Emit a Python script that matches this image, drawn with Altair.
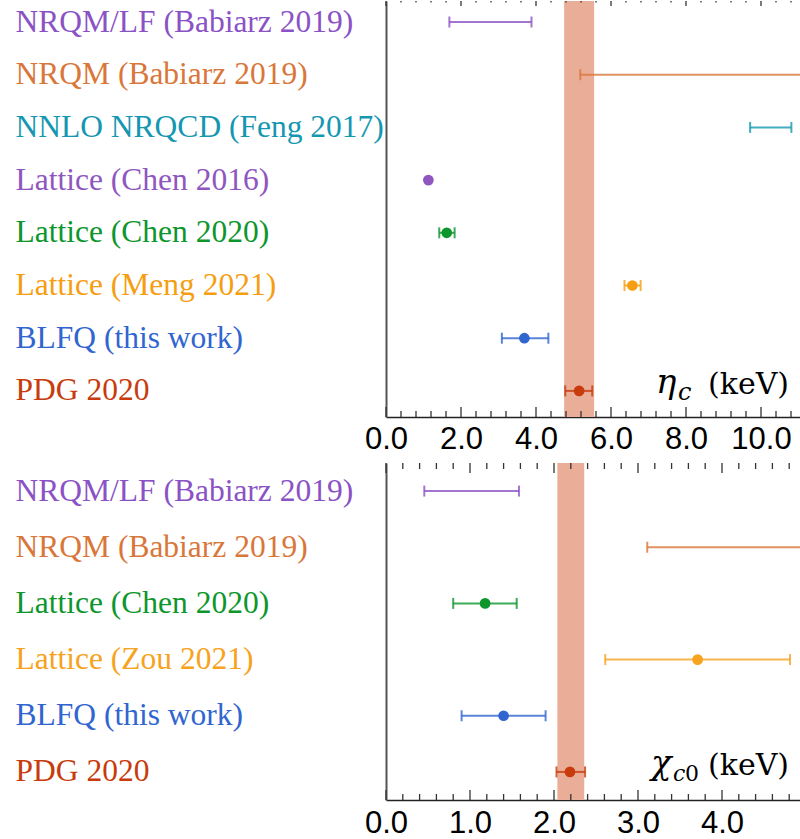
import altair as alt
import pandas as pd

# ---------------- eta_c panel data ----------------
eta_labels = ["NRQM/LF (Babiarz 2019)", "NRQM (Babiarz 2019)", "NNLO NRQCD (Feng 2017)",
              "Lattice (Chen 2016)", "Lattice (Chen 2020)", "Lattice (Meng 2021)",
              "BLFQ (this work)", "PDG 2020"]
eta_colors = ["#8b52c6", "#d9773a", "#1597b2", "#8f56bf", "#0d962c", "#f69e12", "#3165cf", "#c73b0c"]
eta_center = [None, None, None, 1.13, 1.62, 6.57, 3.69, 5.15]
eta_low = [1.69, 5.18, 9.71, None, 1.42, 6.36, 3.09, 4.78]
eta_high = [3.88, 14.0, 10.81, None, 1.83, 6.79, 4.33, 5.50]
eta_band = [4.75, 5.55]
eta_major = [0, 2, 4, 6, 8, 10]
eta_minor = [round(i * 0.4, 1) for i in range(28) if i % 5]
eta_domain = [0, 11.04]

# ---------------- chi_c0 panel data ----------------
chi_labels = ["NRQM/LF (Babiarz 2019)", "NRQM (Babiarz 2019)", "Lattice (Chen 2020)",
              "Lattice (Zou 2021)", "BLFQ (this work)", "PDG 2020"]
chi_colors = ["#8b52c6", "#d9773a", "#0d962c", "#f7a320", "#3165cf", "#c73b0c"]
chi_center = [None, None, 1.18, 3.71, 1.40, 2.19]
chi_low = [0.456, 3.11, 0.80, 2.61, 0.90, 2.03]
chi_high = [1.583, 6.0, 1.556, 4.81, 1.90, 2.37]
chi_band = [2.04, 2.36]
chi_major = [0, 1, 2, 3, 4]
chi_minor = [round(i * 0.2, 1) for i in range(25) if i % 5]
chi_domain = [0, 4.9286]

BAND_COLOR = "#eaae98"
TICK_COLOR = "#333333"


def panel(labels, colors, center, low, high, band, major, minor, domain,
          height, pad, align, top_major, top_minor, label_pad, annots):
    df = pd.DataFrame({"label": labels, "center": center, "low": low, "high": high})
    xs = alt.Scale(domain=domain, nice=False, zero=False)
    ys = alt.Scale(type="point", domain=labels, padding=pad, align=align)
    cs = alt.Scale(domain=labels, range=colors)
    label_color = {
        "condition": [{"test": f"datum.value === '{l}'", "value": c} for l, c in zip(labels, colors)],
        "value": "#000000",
    }
    yaxis = alt.Axis(title=None, ticks=False, tickSize=0, labelAlign="left", labelPadding=371,
                     labelFont="Liberation Serif", labelFontSize=31.5, labelColor=label_color,
                     labelLimit=420, labelBaseline="middle", domainColor="#555555", domainWidth=2,
                     grid=False)
    xaxis = alt.Axis(title=None, values=major, format=".1f", ticks=False, tickSize=0, grid=False,
                     labelFont="Liberation Sans", labelFontSize=31, labelColor="#000000",
                     labelPadding=label_pad, labelBaseline="middle", labelFlush=False,
                     labelOverlap=False, domainColor="#222222", domainWidth=1.6)

    def X(field):
        return alt.X(field, scale=xs, axis=xaxis, title=None)

    ycode = alt.Y("label:N", scale=ys, axis=yaxis, title=None)
    ccode = alt.Color("label:N", scale=cs, legend=None)

    band_layer = alt.Chart(pd.DataFrame({"lo": [band[0]], "hi": [band[1]]})).mark_rect(
        color=BAND_COLOR).encode(x=X("lo:Q"), x2="hi:Q")

    base = alt.Chart(df)
    bars = base.transform_filter("isValid(datum.low)").mark_rule(
        strokeWidth=2, opacity=0.8, clip=True).encode(
        x=X("low:Q"), x2="high:Q", y=ycode, color=ccode)
    cap_lo = base.transform_filter("isValid(datum.low)").mark_tick(
        thickness=2, size=11, opacity=0.8, clip=True).encode(
        x=X("low:Q"), y=ycode, color=ccode)
    cap_hi = base.transform_filter("isValid(datum.high)").mark_tick(
        thickness=2, size=11, opacity=0.8, clip=True).encode(
        x=X("high:Q"), y=ycode, color=ccode)
    pts = base.transform_filter("isValid(datum.center)").mark_circle(
        size=115, opacity=1).encode(
        x=X("center:Q"), y=ycode, color=ccode)

    maj_df = pd.DataFrame({"t": major})
    min_df = pd.DataFrame({"t": minor})
    tick_layers = [
        alt.Chart(maj_df).mark_rule(color=TICK_COLOR, strokeWidth=1.3).encode(
            x=X("t:Q"), y=alt.value(height - 10), y2=alt.value(height)),
        alt.Chart(min_df).mark_rule(color=TICK_COLOR, strokeWidth=1.3).encode(
            x=X("t:Q"), y=alt.value(height - 6), y2=alt.value(height)),
        alt.Chart(maj_df).mark_rule(color=TICK_COLOR, strokeWidth=1.3).encode(
            x=X("t:Q"), y=alt.value(0), y2=alt.value(top_major)),
        alt.Chart(min_df).mark_rule(color=TICK_COLOR, strokeWidth=1.3).encode(
            x=X("t:Q"), y=alt.value(0), y2=alt.value(top_minor)),
    ]

    text_layers = []
    for txt, px, py, size, style in annots:
        text_layers.append(
            alt.Chart(pd.DataFrame({"s": [txt]})).mark_text(
                align="left", baseline="alphabetic", font="DejaVu Serif", fontSize=size,
                fontStyle=style, color="#000000").encode(
                x=alt.value(px), y=alt.value(py), text="s:N"))

    return alt.layer(band_layer, *tick_layers, bars, cap_lo, cap_hi, pts, *text_layers).properties(
        width=414, height=height)


top = panel(eta_labels, eta_colors, eta_center, eta_low, eta_high, eta_band,
            eta_major, eta_minor, eta_domain, 416, 0.447, 0.446, 5, 1.5, 22,
            [("η", 270, 392, 34, "italic"), ("c", 292, 399, 24, "italic"),
             ("(keV)", 322, 393, 30, "normal")])

bottom = panel(chi_labels, chi_colors, chi_center, chi_low, chi_high, chi_band,
               chi_major, chi_minor, chi_domain, 337, 0.5, 0.5, 10, 6, 23,
               [("χ", 265, 311, 34, "italic"), ("c", 287, 318, 22, "italic"),
                ("0", 299, 318, 22, "normal"), ("(keV)", 322, 312, 30, "normal")])

chart = alt.vconcat(top, bottom, spacing=46, bounds="flush").resolve_scale(
    x="independent", y="independent", color="independent"
).properties(
    padding={"left": 15, "top": 0, "right": 0, "bottom": 0},
    background="white",
).configure_view(stroke=None)

chart.save("out.html", embed_options={"renderer": "svg", "actions": False})
